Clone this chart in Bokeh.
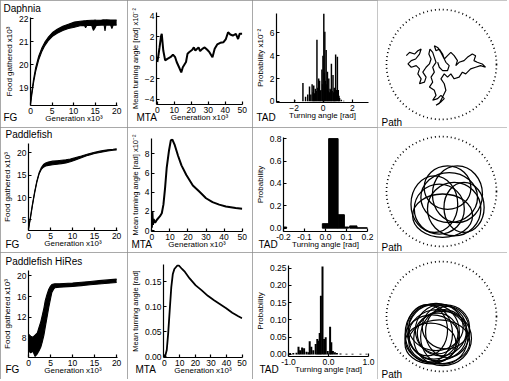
from bokeh.plotting import figure
from bokeh.layouts import column, row
from bokeh.models import Label, Range1d, FixedTicker, PrintfTickFormatter, Title
from bokeh.embed import file_html
from bokeh.resources import INLINE

FONT = "Liberation Sans"
COL_W = [127, 125, 125, 130]
ROW_H = [127, 125, 127]

# ---------------- data ----------------
row_names = ["Daphnia", "Paddlefish", "Paddlefish HiRes"]

# Food gathered (x10^3) vs generation (x10^3): lower / upper edge of the noisy trace
fg_d_gen = [0, 0.3, 0.7, 1.2, 1.9, 2.6, 3.3, 4.2, 5.2, 6.2, 7.5, 8.8, 10.2, 11.5, 12.5, 12.8, 13.1, 14.2, 14.6, 15.0, 15.3, 16.5, 17.1, 17.3, 17.5, 18.6, 18.9, 19.2, 20]
fg_d_lo = [18.28, 18.7, 19.22, 19.72, 20.22, 20.57, 20.83, 21.07, 21.26, 21.38, 21.5, 21.58, 21.64, 21.7, 21.72, 21.62, 21.72, 21.72, 21.5, 21.62, 21.72, 21.73, 21.73, 21.48, 21.73, 21.73, 21.58, 21.73, 21.73]
fg_d_hi = [18.35, 18.82, 19.36, 19.88, 20.38, 20.72, 20.98, 21.22, 21.42, 21.55, 21.68, 21.77, 21.86, 21.9, 21.92, 21.92, 21.93, 21.94, 21.94, 21.95, 21.94, 21.95, 21.96, 21.95, 21.96, 21.95, 21.95, 21.95, 21.95]

fg_p_gen = [0, 0.4, 0.9, 1.4, 1.9, 2.4, 2.9, 3.4, 3.9, 4.5, 5.5, 6.5, 7.5, 8.5, 9.5, 10.5, 12, 13.5, 15, 16.5, 18, 19.2, 20]
fg_p_lo = [2.9, 5.15, 8.25, 11.05, 13.45, 15.25, 16.3, 16.8, 17.05, 17.2, 17.35, 17.45, 17.6, 17.75, 18.0, 18.35, 18.9, 19.45, 19.85, 20.15, 20.42, 20.58, 20.68]
fg_p_hi = [3.15, 5.45, 8.55, 11.35, 13.75, 15.55, 16.7, 17.4, 17.75, 17.95, 18.15, 18.25, 18.35, 18.45, 18.65, 18.9, 19.3, 19.75, 20.15, 20.45, 20.68, 20.82, 20.92]

fg_h_gen = [0, 0.5, 1.0, 1.5, 2.0, 2.4, 2.8, 3.1, 3.5, 3.8, 4.2, 4.6, 5.0, 5.3, 5.7, 6.0, 7, 8, 10, 12, 14, 16, 18, 20]
fg_h_lo = [5.6, 5.2, 5.5, 4.5, 5.0, 5.6, 6.3, 7.2, 8.6, 10.1, 12.0, 13.9, 15.6, 16.8, 17.4, 17.7, 17.8, 17.85, 17.95, 18.1, 18.25, 18.4, 18.55, 18.7]
fg_h_hi = [8.8, 8.4, 8.2, 8.6, 9.0, 10.1, 11.2, 12.3, 13.8, 15.2, 16.4, 17.4, 18.0, 18.3, 18.4, 18.45, 18.45, 18.5, 18.6, 18.75, 18.9, 19.05, 19.2, 19.35]

# Mean turning angle vs generation (x10^3)
mta_d_gen = [0, 0.6, 1.3, 2.2, 2.6, 3.5, 4.6, 5.9, 7.7, 9.2, 10.5, 11.4, 13.2, 14.1, 15.0, 16.9, 17.8, 18.7, 20.6, 21.5, 22.4, 24.3, 25.2, 26.5, 27.9, 29.4, 30.7, 32.5, 33.8, 35.3, 37.1, 39.0, 40.4, 41.7, 43.0, 44.5, 46.3, 47.6, 48.5, 50]
mta_d = [-0.4, 0.2, 1.0, 2.1, 2.3, 0.7, -0.25, -0.1, 0.06, 0.3, 0.06, -0.4, -1.05, -1.4, -0.9, -0.4, 0.4, 0.54, 0.77, 1.0, 0.7, 1.0, 0.64, 0.86, 1.0, 0.77, 0.54, 0.06, 0.86, 1.28, 1.44, 1.5, 1.8, 2.46, 2.24, 2.14, 2.3, 1.8, 2.3, 2.3]

mta_p_gen = [0, 0.3, 0.6, 1.0, 1.8, 2.7, 4.5, 5.5, 6.4, 7.3, 8.2, 9.5, 10.5, 11.3, 12.7, 14.5, 16.4, 19.1, 22.7, 26.4, 30.0, 33.6, 37.3, 41.0, 46.4, 50]
mta_p = [0.3, 2.0, 0.6, 1.2, 0.8, 1.1, 1.5, 1.8, 2.7, 4.4, 6.5, 8.35, 9.4, 9.5, 8.9, 7.8, 6.8, 5.8, 4.7, 4.05, 3.37, 2.96, 2.7, 2.5, 2.34, 2.27]

mta_h_gen = [0, 0.6, 1.6, 2.5, 3.5, 4.5, 5.5, 6.5, 8.4, 9.4, 11.4, 13.3, 16.3, 20.2, 24.1, 28.0, 32.0, 35.9, 39.8, 43.7, 47.6, 50]
mta_h = [0.0, 0.001, 0.013, 0.046, 0.093, 0.139, 0.166, 0.176, 0.183, 0.183, 0.176, 0.17, 0.157, 0.143, 0.133, 0.122, 0.113, 0.105, 0.097, 0.088, 0.081, 0.077]

# Turning angle distributions
tad_d_ang = [-1.93, -1.39, -1.21, -1.06, -0.94, -0.85, -0.76, -0.7, -0.65, -0.6, -0.54, -0.48, -0.43, -0.37, -0.31, -0.25, -0.2, -0.16, -0.09, -0.05, -0.02, 0.04, 0.07, 0.11, 0.15, 0.2, 0.25, 0.29, 0.33, 0.38, 0.42, 0.47, 0.52, 0.56, 0.61, 0.67, 0.72, 0.76, 0.8, 0.85, 0.9, 0.97, 1.03, 1.08, 1.12, 1.24, 1.4]
tad_d_prob = [0.08, 1.6, 0.4, 0.6, 1.3, 0.6, 1.5, 0.8, 1.4, 0.7, 1.1, 0.9, 5.4, 1.2, 2.0, 1.8, 0.9, 1.0, 2.8, 1.5, 4.0, 7.8, 2.5, 6.1, 1.8, 4.5, 1.5, 2.6, 0.9, 2.0, 0.8, 1.1, 1.0, 3.3, 0.9, 2.3, 0.8, 1.2, 0.7, 4.1, 1.0, 3.9, 1.0, 0.5, 0.3, 0.15, 0.05]

tad_p_left = [-0.2, -0.015, 0.015, 0.06, 0.09, 0.115, 0.15]
tad_p_right = [-0.185, 0.015, 0.06, 0.09, 0.11, 0.15, 0.2]
tad_p_prob = [0.01, 0.04, 0.8, 0.12, 0.01, 0.02, 0.003]

tad_h_ang = [-0.96, -0.88, -0.8, -0.75, -0.71, -0.66, -0.61, -0.55, -0.5, -0.47, -0.43, -0.38, -0.32, -0.28, -0.25, -0.22, -0.19, -0.15, -0.11, -0.07, -0.02, 0.04, 0.07, 0.11, 0.16, 0.21, 0.3, 0.45, 0.6, 0.8, 0.95]
tad_h_prob = [0.004, 0.004, 0.005, 0.022, 0.012, 0.02, 0.018, 0.008, 0.006, 0.038, 0.022, 0.012, 0.03, 0.045, 0.04, 0.062, 0.17, 0.255, 0.045, 0.05, 0.01, 0.08, 0.035, 0.01, 0.006, 0.004, 0.003, 0.002, 0.002, 0.002, 0.002]

# Paths (arena radius = 1)
path_d_x = [-0.64, -0.58, -0.49, -0.43, -0.37, -0.40, -0.47, -0.55, -0.61, -0.55, -0.46, -0.40, -0.43, -0.37, -0.40, -0.31, -0.28, -0.34, -0.28, -0.22, -0.19, -0.23, -0.21, -0.16, -0.13, -0.10, -0.16, -0.13, -0.19, -0.16, -0.22, -0.13, -0.10, -0.16, -0.07, -0.01, 0.05, -0.01, -0.10, -0.04, 0.02, 0.08, 0.05, -0.01, 0.05, 0.11, 0.17, 0.23, 0.32, 0.38, 0.44, 0.53, 0.62, 0.71, 0.80, 0.74, 0.65, 0.59, 0.62, 0.56, 0.47, 0.41, 0.32, 0.26, 0.29, 0.23, 0.17, 0.11, 0.05, 0.02, -0.04, -0.10, -0.13, -0.07, -0.01, 0.08, 0.14, 0.11, 0.02, -0.04, -0.07]
path_d_y = [0.16, 0.22, 0.19, 0.25, 0.28, 0.19, 0.10, 0.07, 0.01, -0.05, -0.02, -0.08, -0.17, -0.26, -0.35, -0.32, -0.23, -0.14, -0.05, 0.01, 0.10, 0.19, 0.28, 0.22, 0.13, 0.04, -0.05, -0.14, -0.23, -0.32, -0.41, -0.47, -0.56, -0.65, -0.62, -0.56, -0.62, -0.68, -0.74, -0.71, -0.59, -0.47, -0.35, -0.26, -0.17, -0.23, -0.17, -0.26, -0.23, -0.14, -0.17, -0.08, -0.05, -0.02, -0.05, 0.01, 0.04, 0.07, 0.16, 0.19, 0.13, 0.07, 0.04, -0.02, 0.07, 0.16, 0.22, 0.16, 0.10, 0.19, 0.28, 0.25, 0.34, 0.31, 0.22, 0.04, -0.02, -0.11, -0.11, -0.05, 0.04]

loops_p_x = [-0.04, 0.14, 0.29, 0.02, 0.23, -0.13, 0.41, 0.11]
loops_p_y = [-0.32, -0.11, -0.05, -0.44, -0.32, -0.23, -0.29, 0.07]
loops_p_w = [0.91, 1.03, 0.91, 1.09, 0.97, 0.85, 0.73, 0.85]
loops_p_h = [0.91, 0.91, 1.03, 0.79, 0.97, 1.03, 0.91, 0.79]

loops_h_x = [-0.14, -0.07, -0.17, -0.01, 0.05, -0.23, -0.04, -0.10, 0.11, -0.20, 0.02, -0.07, -0.26, 0.08]
loops_h_y = [-0.28, -0.34, -0.40, -0.25, -0.37, -0.31, -0.46, -0.19, -0.28, -0.49, -0.40, -0.31, -0.25, -0.19]
loops_h_w = [0.93, 1.05, 0.99, 0.93, 0.86, 0.86, 1.11, 0.99, 0.80, 0.93, 1.05, 0.74, 0.74, 0.86]
loops_h_h = [0.99, 0.93, 0.86, 0.93, 0.99, 1.05, 0.80, 0.86, 0.93, 0.74, 0.99, 0.74, 0.93, 0.80]

arena_x = [0.0]
arena_y = [0.0]
arena_r = [1.0]

gen_ticks_20 = [0, 5, 10, 15, 20]
gen_ticks_50 = [0, 10, 20, 30, 40, 50]

# ---------------- helpers ----------------
BORDER = {"outline": "1px solid #8c8c8c", "outline-offset": "-1px"}
AXIS_EST = 19.5  # estimated height of the x axis block (ticks + labels)
TAG_TOP = 111    # wanted top of the bottom-left code text


def axes_panel(W, H, xr, yr, xticks, yticks, xlabel, ylabel, L, T, B, R, xfmt=None, yfmt=None,
               title=None, code="", ylabel_size="8px"):
    p = figure(width=W, height=H, x_range=Range1d(*xr), y_range=Range1d(*yr),
               output_backend="svg", toolbar_location=None,
               min_border_left=L, min_border_right=R, min_border_top=T, min_border_bottom=B)
    p.grid.visible = False
    p.outline_line_color = None
    p.styles = BORDER
    for ax in (p.xaxis[0], p.yaxis[0]):
        ax.axis_line_width = 1.2
        ax.axis_line_color = "black"
        ax.major_tick_line_width = 1.2
        ax.major_tick_line_color = "black"
        ax.major_tick_in = 3
        ax.major_tick_out = 0
        ax.minor_tick_line_color = None
        ax.major_label_text_font = FONT
        ax.major_label_text_font_size = "8.5px"
        ax.major_label_text_color = "black"
        ax.axis_label_text_font = FONT
        ax.axis_label_text_font_style = "normal"
        ax.axis_label_text_color = "black"
        ax.major_label_standoff = 2
    p.xaxis.axis_label_text_font_size = "8px"
    p.yaxis.axis_label_text_font_size = ylabel_size
    p.xaxis.axis_label = xlabel
    p.yaxis.axis_label = ylabel
    p.xaxis.axis_label_standoff = -3
    p.yaxis.axis_label_standoff = 2
    p.xaxis.ticker = FixedTicker(ticks=xticks)
    p.yaxis.ticker = FixedTicker(ticks=yticks)
    if xfmt:
        p.xaxis.formatter = PrintfTickFormatter(format=xfmt)
    if yfmt:
        p.yaxis.formatter = PrintfTickFormatter(format=yfmt)
    if title:
        p.title = Title(text=title, align="left", offset=3 - L, standoff=3, vertical_align="top",
                        text_font=FONT, text_font_size="10px", text_font_style="normal",
                        text_color="black")
    # bottom-left code (FG / MTA / TAD), on the line of the x axis label
    s = int(round(2 * (TAG_TOP - (H - B) - AXIS_EST)))
    p.add_layout(Title(text=code, align="left", offset=3 - L, standoff=s, vertical_align="top",
                       text_font=FONT, text_font_size="10px", text_font_style="normal",
                       text_color="black"), "below")
    return p


def fg_panel(W, H, gen, lo, hi, yr, yticks, L, T, B, R, title):
    p = axes_panel(W, H, (0, 20.2), yr, gen_ticks_20, yticks, "Generation x10³", "Food gathered x10³",
                   L, T, B, R, title=title, code="FG")
    p.varea(x=gen, y1=lo, y2=hi, fill_color="black")
    p.line(gen, lo, line_color="black", line_width=1.1)
    p.line(gen, hi, line_color="black", line_width=1.1)
    return p


def path_panel(W, H):
    cx, cy, r = 64, 64, 55
    p = figure(width=W, height=H, x_range=Range1d(-cx / r, (W - cx) / r),
               y_range=Range1d(-(H - cy) / r, cy / r),
               x_axis_type=None, y_axis_type=None, output_backend="svg", toolbar_location=None,
               min_border=0)
    p.grid.visible = False
    p.outline_line_color = None
    p.styles = BORDER
    p.circle(x=arena_x, y=arena_y, radius=arena_r, fill_color=None, line_color="black",
             line_width=1.7, line_dash="1 3")
    p.add_layout(Label(x=4, y=5, x_units="screen", y_units="screen", text="Path",
                       text_font=FONT, text_font_size="10px", text_baseline="alphabetic",
                       text_align="left", text_color="black"))
    return p


W1, W2, W3, W4 = COL_W
H1, H2, H3 = ROW_H

# ---------------- row 1: Daphnia ----------------
r1 = []
r1.append(fg_panel(W1, H1, fg_d_gen, fg_d_lo, fg_d_hi, (18.24, 22.06), [19, 20, 21, 22],
                   30, 17, 22, 10, row_names[0]))
p = axes_panel(W2, H1, (-0.5, 50.2), (-4.48, 4.35), gen_ticks_50, [-4, -2, 0, 2, 4], "Generation x10³",
               "Mean turning angle [rad] x10⁻²", 23, 12, 23, 10, code="MTA", ylabel_size="7.5px")
p.line(mta_d_gen, mta_d, line_color="black", line_width=2)
r1.append(p)
p = axes_panel(W3, H1, (-3.2, 3.1), (-0.1, 7.7), [-2, 0, 2], [0, 2, 4, 6], "Turning angle [rad]",
               "Probability x10⁻²", 23, 13, 25, 9, code="TAD")
p.vbar(x=tad_d_ang, top=tad_d_prob, bottom=0, width=0.1, fill_color="black", line_color=None)
r1.append(p)
p = path_panel(W4, H1)
p.line(path_d_x, path_d_y, line_color="black", line_width=1.2)
r1.append(p)

# ---------------- row 2: Paddlefish ----------------
r2 = []
r2.append(fg_panel(W1, H2, fg_p_gen, fg_p_lo, fg_p_hi, (2.64, 22.1), [5, 10, 15, 20],
                   26, 15, 22, 10, row_names[1]))
p = axes_panel(W2, H2, (-0.2, 50.2), (-0.1, 9.6), gen_ticks_50, [0, 2, 4, 6, 8], "Generation x10³",
               "Mean turning angle [rad] x10⁻²", 23, 11, 21, 10, code="MTA", ylabel_size="7.5px")
p.line(mta_p_gen, mta_p, line_color="black", line_width=2)
r2.append(p)
p = axes_panel(W3, H2, (-0.2, 0.2), (-0.03, 0.81), [-0.2, -0.1, 0, 0.1, 0.2], [0, 0.2, 0.4, 0.6, 0.8],
               "Turning angle [rad]", "Probability", 28, 10, 21, 10, xfmt="%.1f", yfmt="%.1f", code="TAD")
p.quad(left=tad_p_left, right=tad_p_right, top=tad_p_prob, bottom=0, fill_color="black",
       line_color="black")
r2.append(p)
p = path_panel(W4, H2)
p.ellipse(x=loops_p_x, y=loops_p_y, width=loops_p_w, height=loops_p_h, fill_color=None,
          line_color="black", line_width=1.3)
r2.append(p)

# ---------------- row 3: Paddlefish HiRes ----------------
r3 = []
r3.append(fg_panel(W1, H3, fg_h_gen, fg_h_lo, fg_h_hi, (4.3, 21.0), [8, 12, 16, 20],
                   26, 18, 22, 10, row_names[2]))
p = axes_panel(W2, H3, (-0.5, 50.3), (-0.002, 0.185), gen_ticks_50, [0, 0.05, 0.1, 0.15], "Generation x10³",
               "Mean turning angle [rad]", 31, 12, 22, 10, yfmt="%.2f", code="MTA", ylabel_size="7.5px")
p.line(mta_h_gen, mta_h, line_color="black", line_width=1.8)
r3.append(p)
p = axes_panel(W3, H3, (-1.0, 1.0), (-0.006, 0.258), [-1, 0, 1], [0, 0.05, 0.1, 0.15, 0.2, 0.25],
               "Turning angle [rad]", "Probability", 32, 13, 23, 9, xfmt="%.1f", yfmt="%.2f", code="TAD")
p.vbar(x=tad_h_ang, top=tad_h_prob, bottom=0, width=0.05, fill_color="black", line_color=None)
r3.append(p)
p = path_panel(W4, H3)
p.ellipse(x=loops_h_x, y=loops_h_y, width=loops_h_w, height=loops_h_h, fill_color=None,
          line_color="black", line_width=1.2)
r3.append(p)

# each panel is wrapped in its own column so that plot frames are not aligned across a row
layout = column(*[row(*[column(q) for q in rr]) for rr in (r1, r2, r3)])

open("out.html", "w").write(file_html(layout, INLINE))
